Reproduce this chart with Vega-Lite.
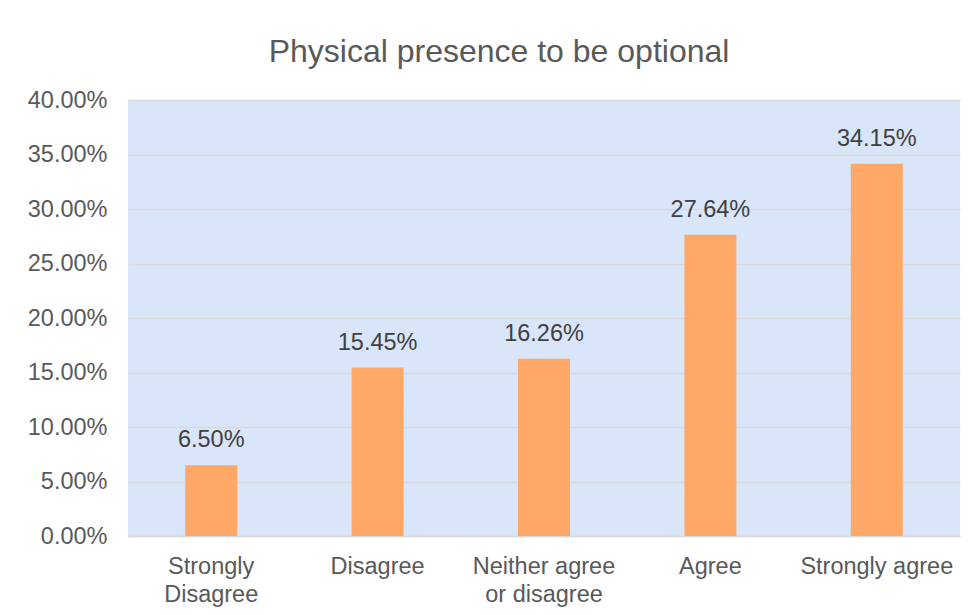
{
  "$schema": "https://vega.github.io/schema/vega-lite/v6.json",
  "autosize": "none",
  "width": 832,
  "height": 436,
  "padding": {"left": 128, "top": 100, "right": 16, "bottom": 79},
  "background": "#FFFFFF",
  "title": {
    "text": "Physical presence to be optional",
    "font": "Liberation Sans",
    "fontSize": 32,
    "fontWeight": "normal",
    "color": "#595959",
    "anchor": "middle",
    "frame": "group",
    "baseline": "alphabetic",
    "offset": -6,
    "dx": -45
  },
  "data": {
    "values": [
      {"response": "Strongly Disagree", "share": 0.065},
      {"response": "Disagree", "share": 0.1545},
      {"response": "Neither agree or disagree", "share": 0.1626},
      {"response": "Agree", "share": 0.2764},
      {"response": "Strongly agree", "share": 0.3415}
    ]
  },
  "encoding": {
    "x": {
      "field": "response",
      "type": "nominal",
      "sort": null,
      "scale": {"paddingInner": 0, "paddingOuter": 0},
      "axis": {
        "title": null,
        "labelAngle": 0,
        "labelFont": "Liberation Sans",
        "labelFontSize": 23.5,
        "labelColor": "#595959",
        "labelPadding": 18,
        "labelLineHeight": 28,
        "ticks": false,
        "domainColor": "#D9D9D9",
        "domainWidth": 1.5,
        "grid": false,
        "labelExpr": "datum.value == 'Strongly Disagree' ? ['Strongly', 'Disagree'] : datum.value == 'Neither agree or disagree' ? ['Neither agree', 'or disagree'] : datum.value"
      }
    },
    "y": {
      "field": "share",
      "type": "quantitative",
      "scale": {"domain": [0, 0.4], "nice": false},
      "axis": {
        "title": null,
        "values": [0, 0.05, 0.1, 0.15, 0.2, 0.25, 0.3, 0.35, 0.4],
        "format": ".2%",
        "labelFont": "Liberation Sans",
        "labelFontSize": 23.5,
        "labelColor": "#595959",
        "labelPadding": 21,
        "ticks": false,
        "domain": false,
        "gridColor": "#D9D9D9",
        "gridWidth": 1.5
      }
    }
  },
  "layer": [
    {
      "mark": {"type": "bar", "color": "#FFA766", "width": {"band": 0.3125}}
    },
    {
      "mark": {
        "type": "text",
        "baseline": "alphabetic",
        "dy": -18,
        "font": "Liberation Sans",
        "fontSize": 23.5,
        "color": "#404040"
      },
      "encoding": {
        "text": {"field": "share", "type": "quantitative", "format": ".2%"}
      }
    }
  ],
  "config": {
    "view": {"fill": "#D9E6FA", "stroke": null}
  }
}
